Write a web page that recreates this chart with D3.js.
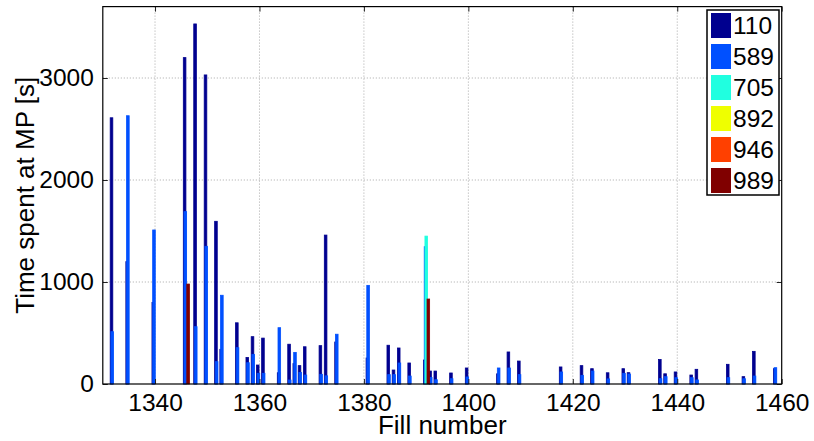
<!DOCTYPE html>
<html>
<head>
<meta charset="utf-8">
<script src="https://cdn.jsdelivr.net/npm/d3@7"></script>
<style>
  body { margin: 0; background: #fff; }
  svg { display: block; font-family: "Liberation Sans", Arial, Helvetica, sans-serif; }
</style>
</head>
<body>
<svg id="chart" width="814" height="441"></svg>
<script>
// fill numbers and time spent at MP [s] per bunch-count series
const fills = [1332, 1335, 1340, 1346, 1348, 1350, 1352, 1353, 1356, 1358,
  1359, 1360, 1361, 1364, 1366, 1367, 1368, 1369, 1372, 1373,
  1375, 1381, 1385, 1386, 1387, 1389, 1392, 1393, 1394, 1397,
  1400, 1406, 1408, 1410, 1418, 1422, 1424, 1427, 1430, 1431,
  1437, 1438, 1440, 1443, 1444, 1450, 1453, 1455, 1459];

const s110 = [2610, 1200, 800, 3200, 3530, 3030, 1595, 340, 600, 260,
  464, 186, 450, 110, 390, 200, 180, 365, 376, 1460,
  412, 255, 380, 137, 353, 206, 235, 127, 127, 108,
  157, 100, 314, 225, 167, 180, 150, 110, 150, 111,
  240, 100, 118, 88, 144, 193, 72, 320, 150];

const s589 = [513, 2630, 1510, 1690, 562, 1350, 219, 870, 356, 209,
  291, 105, 105, 552, 39, 310, 114, 88, 95, 80,
  488, 967, 92, 92, 206, 78, 1346, 65, 42, 52,
  69, 157, 157, 92, 118, 85, 127, 50, 105, 98,
  52, 72, 62, 62, 40, 62, 52, 78, 160];

// sparse series: [fill, value], every other fill is 0
const s705 = [[1392, 1450]];
const s892 = [];
const s946 = [];
const s989 = [[1346, 980], [1392, 833]];

const seriesNames = ['110', '589', '705', '892', '946', '989'];
const colors = ['#00008f', '#0050ff', '#20ffe0', '#efff00', '#ff4000', '#800000'];
const xTicks = [1340, 1360, 1380, 1400, 1420, 1440, 1460];
const yTicks = [0, 1000, 2000, 3000];

const sparse = pairs => fills.map(f => {
  const p = pairs.find(q => q[0] === f);
  return p ? p[1] : 0;
});
const series = [s110, s589, sparse(s705), sparse(s892), sparse(s946), sparse(s989)];

const svg = d3.select('#chart');
const m = { left: 102.8, right: 781.7, top: 6.6, bottom: 384 };

const x = d3.scaleLinear().domain([1330, 1460]).range([m.left, m.right]);
const y = d3.scaleLinear().domain([0, 3700]).range([m.bottom, m.top]);

// grid
const grid = svg.append('g')
  .attr('stroke', '#a8a8a8')
  .attr('stroke-dasharray', '1,2')
  .attr('stroke-width', 1);
grid.selectAll('line.v')
  .data(xTicks.filter(t => t < 1460))
  .enter().append('line')
  .attr('x1', d => x(d)).attr('x2', d => x(d))
  .attr('y1', m.top).attr('y2', m.bottom);
grid.selectAll('line.h')
  .data(yTicks.filter(t => t > 0))
  .enter().append('line')
  .attr('x1', m.left).attr('x2', m.right)
  .attr('y1', d => y(d)).attr('y2', d => y(d));

// grouped bars, MATLAB style: 6 bars per fill, 0.8 group width
const step = 0.8 / 6;
const barW = 0.5;
series.forEach((vals, i) => {
  svg.append('g')
    .selectAll('rect')
    .data(fills.map((f, j) => ({ f, v: vals[j] })))
    .enter().append('rect')
    .attr('x', d => x(d.f + (i - 2.5) * step - barW / 2))
    .attr('width', x(1330 + barW) - x(1330))
    .attr('y', d => y(d.v))
    .attr('height', d => y(0) - y(d.v))
    .attr('fill', colors[i])
    .attr('stroke', colors[i])
    .attr('stroke-width', 0.8);
});

// axes, ticks inward
const fs = '24.5px';
const fsLabel = '26px';
const xAxis = svg.append('g')
  .attr('transform', `translate(0,${m.bottom})`)
  .call(d3.axisBottom(x).tickValues(xTicks).tickFormat(d3.format('d')).tickSizeInner(-5).tickSizeOuter(0).tickPadding(10));
const xTop = svg.append('g')
  .attr('transform', `translate(0,${m.top})`)
  .call(d3.axisTop(x).tickValues(xTicks).tickFormat('').tickSizeInner(-5).tickSizeOuter(0));
const yAxis = svg.append('g')
  .attr('transform', `translate(${m.left},0)`)
  .call(d3.axisLeft(y).tickValues(yTicks).tickFormat(d3.format('d')).tickSizeInner(-5).tickSizeOuter(0).tickPadding(9));
const yRight = svg.append('g')
  .attr('transform', `translate(${m.right},0)`)
  .call(d3.axisRight(y).tickValues(yTicks).tickFormat('').tickSizeInner(-5).tickSizeOuter(0));

[xAxis, xTop, yAxis, yRight].forEach(a => {
  a.select('.domain').remove();
  a.selectAll('line').attr('stroke', '#222').attr('stroke-width', 1);
  a.selectAll('text').attr('font-size', fs).attr('font-family', null).attr('fill', '#000');
});

svg.append('rect')
  .attr('x', m.left).attr('y', m.top)
  .attr('width', m.right - m.left).attr('height', m.bottom - m.top)
  .attr('fill', 'none').attr('stroke', '#000').attr('stroke-width', 1.2);

// labels
svg.append('text')
  .attr('x', (m.left + m.right) / 2).attr('y', 434)
  .attr('text-anchor', 'middle')
  .attr('font-size', fsLabel)
  .text('Fill number');

svg.append('text')
  .attr('transform', `translate(34,${(m.top + m.bottom) / 2}) rotate(-90)`)
  .attr('text-anchor', 'middle')
  .attr('font-size', fsLabel)
  .text('Time spent at MP [s]');

// legend
const lg = svg.append('g').attr('transform', 'translate(707,10)');
lg.append('rect')
  .attr('width', 72).attr('height', 185)
  .attr('fill', '#fff').attr('stroke', '#000').attr('stroke-width', 1.5);
const rows = lg.selectAll('g.row')
  .data(seriesNames)
  .enter().append('g')
  .attr('transform', (d, i) => `translate(4,${3 + i * 31})`);
rows.append('rect')
  .attr('width', 20).attr('height', 25)
  .attr('fill', (d, i) => colors[i]);
rows.append('text')
  .attr('x', 22).attr('y', 21)
  .attr('font-size', fs)
  .text(d => d);
</script>
</body>
</html>
